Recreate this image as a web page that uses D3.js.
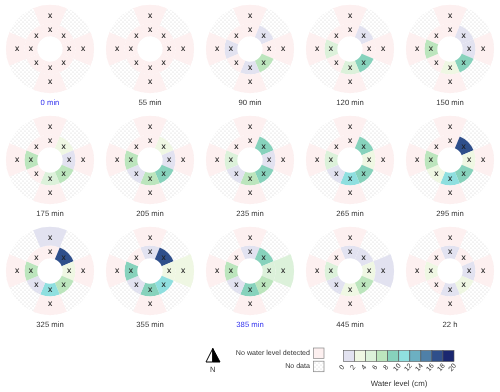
<!DOCTYPE html>
<html>
<head>
<meta charset="utf-8">
<script src="https://cdn.jsdelivr.net/npm/d3@7"></script>
<style>
body { margin: 0; background: #fff; }
svg { will-change: transform; }
text { font-family: "Liberation Sans", Arial, sans-serif; fill: #333; text-rendering: geometricPrecision; }
.mark { fill: #222; stroke: #222; stroke-width: 0.1; }
</style>
</head>
<body>
<svg id="chart" width="500" height="392"></svg>
<script>
var panelLabels = ["0 min", "55 min", "90 min", "120 min", "150 min",
    "175 min", "205 min", "235 min", "265 min", "295 min",
    "325 min", "355 min", "385 min", "445 min", "22 h"];
var blueLabels = ["0 min", "385 min"];

// inner ring, clockwise from north: N NE E SE S SW W NW (null = no water level detected)
var innerLevels = [
    [null, null, null, null, null, null, null, null],
    [null, null, null, null, null, null, null, null],
    [null, 1, null, 7, 1, null, 1, null],
    [null, 1, null, 9, 5, null, 5, null],
    [null, 1, 1, 9, 3, null, 7, null],
    [null, 3, 1, 7, 5, null, 7, null],
    [null, 3, 1, 9, 7, 1, 7, null],
    [null, 9, 1, 9, 7, 1, 5, null],
    [null, 9, 3, 9, 11, 1, 5, null],
    [null, 17, 3, 9, 11, 3, 7, null],
    [null, 17, 3, 7, 11, 1, 7, null],
    [1, 17, 3, 11, 9, 1, 9, null],
    [1, 9, 5, 7, 9, 1, 7, null],
    [1, 1, 3, 7, 3, 1, 5, null],
    [1, null, 1, 3, 1, null, 3, null]
];
// outer ring: N E S W
var outerLevels = [
    [null, null, null, null],
    [null, null, null, null],
    [null, null, null, null],
    [null, null, null, null],
    [null, null, null, null],
    [null, null, null, null],
    [null, null, null, null],
    [null, null, null, null],
    [null, null, null, null],
    [null, null, null, null],
    [1, null, null, null],
    [null, 3, null, null],
    [null, 5, null, null],
    [null, 1, null, null],
    [null, null, null, null]
];
var levelTicks = [0, 2, 4, 6, 8, 10, 12, 14, 16, 18, 20];
var levelColors = ["#e2e2f0", "#eff7e3", "#dcf1da", "#bce5bd", "#87d2bc",
    "#8fdfdf", "#6cb0c2", "#4f80a8", "#2f4f8b", "#1a2770"];
var noWaterColor = "#fdf0f0";

var svg = d3.select("#chart");

var color = d3.scaleThreshold()
    .domain(levelTicks.slice(1, -1))
    .range(levelColors);

var x = d3.scalePoint().domain(d3.range(5)).range([50, 450]);
var y = d3.scalePoint().domain(d3.range(3)).range([49, 271]);

var holeR = 12.7, ringR = 25.5, outerR = 44;
var innerMarkR = 19.2, outerMarkR = 33;
var step = Math.PI / 4;

var defs = svg.append("defs");
var dots = defs.append("pattern")
    .attr("id", "stipple")
    .attr("patternUnits", "userSpaceOnUse")
    .attr("width", 4)
    .attr("height", 4);
dots.selectAll("circle")
    .data([[1, 1], [3, 3]])
    .enter().append("circle")
    .attr("cx", function(d) { return d[0]; })
    .attr("cy", function(d) { return d[1]; })
    .attr("r", 0.5)
    .attr("fill", "#c4c4c4");

var innerArc = d3.arc()
    .innerRadius(holeR)
    .outerRadius(ringR)
    .startAngle(function(d) { return d.i * step - step / 2; })
    .endAngle(function(d) { return d.i * step + step / 2; });

var outerArc = d3.arc()
    .innerRadius(ringR)
    .outerRadius(outerR)
    .startAngle(function(d) { return d.i * 2 * step - step / 2; })
    .endAngle(function(d) { return d.i * 2 * step + step / 2; });

function fillFor(d) {
    return d.v === null ? noWaterColor : color(d.v);
}

function withIndex(v, i) {
    return { v: v, i: i };
}

var panels = svg.selectAll(".panel")
    .data(panelLabels)
    .enter().append("g")
    .attr("class", "panel")
    .attr("transform", function(d, i) {
        return "translate(" + x(i % 5) + "," + y(Math.floor(i / 5)) + ")";
    });

panels.append("path")
    .attr("d", d3.arc().innerRadius(holeR).outerRadius(outerR).startAngle(0).endAngle(2 * Math.PI))
    .attr("fill", "url(#stipple)");

panels.each(function(label, p) {
    var g = d3.select(this);

    g.selectAll(".inner")
        .data(innerLevels[p].map(withIndex))
        .enter().append("path")
        .attr("class", "inner")
        .attr("d", innerArc)
        .attr("fill", fillFor);

    g.selectAll(".outer")
        .data(outerLevels[p].map(withIndex))
        .enter().append("path")
        .attr("class", "outer")
        .attr("d", outerArc)
        .attr("fill", fillFor);

    g.selectAll(".mark-inner")
        .data(innerLevels[p].map(withIndex))
        .enter().append("text")
        .attr("class", "mark mark-inner")
        .attr("x", function(d) { return innerMarkR * Math.sin(d.i * step); })
        .attr("y", function(d) { return -innerMarkR * Math.cos(d.i * step); })
        .attr("dy", "0.25em")
        .attr("text-anchor", "middle")
        .attr("font-size", 8.5)
        .text("x");

    g.selectAll(".mark-outer")
        .data(outerLevels[p].map(withIndex))
        .enter().append("text")
        .attr("class", "mark mark-outer")
        .attr("x", function(d) { return outerMarkR * Math.sin(d.i * 2 * step); })
        .attr("y", function(d) { return -outerMarkR * Math.cos(d.i * 2 * step); })
        .attr("dy", "0.25em")
        .attr("text-anchor", "middle")
        .attr("font-size", 8.5)
        .text("x");

    g.append("text")
        .attr("y", 56)
        .attr("text-anchor", "middle")
        .attr("font-size", 7.7)
        .style("fill", blueLabels.indexOf(label) >= 0 ? "#3333ee" : "#333")
        .text(label);
});

// colour bar
var barY = 350.5, barH = 11;
var barX = d3.scaleLinear().domain([0, 20]).range([343.5, 454]);

var bar = svg.append("g");
bar.selectAll("rect")
    .data(levelColors)
    .enter().append("rect")
    .attr("x", function(d, i) { return barX(levelTicks[i]); })
    .attr("y", barY)
    .attr("width", function(d, i) { return barX(levelTicks[i + 1]) - barX(levelTicks[i]); })
    .attr("height", barH)
    .attr("fill", function(d) { return d; })
    .attr("stroke", "#555")
    .attr("stroke-width", 0.6);

var barAxis = svg.append("g")
    .attr("transform", "translate(0," + (barY + barH) + ")")
    .call(d3.axisBottom(barX).tickValues(levelTicks).tickSize(0));
barAxis.select(".domain").remove();
barAxis.selectAll("text")
    .attr("font-size", 7)
    .attr("text-anchor", "middle")
    .attr("dy", null)
    .attr("y", 0)
    .attr("transform", "translate(-2,6) rotate(-50)")
    .attr("dominant-baseline", "middle");

svg.append("text")
    .attr("x", 399)
    .attr("y", 386)
    .attr("text-anchor", "middle")
    .attr("font-size", 7.8)
    .text("Water level (cm)");

// key boxes
var keyLabels = ["No water level detected", "No data"];
var keyFills = [noWaterColor, "url(#stipple)"];
var keyY = d3.scalePoint().domain([0, 1]).range([348, 361.2]);

var key = svg.selectAll(".key")
    .data(keyLabels)
    .enter().append("g")
    .attr("class", "key");
key.append("rect")
    .attr("x", 313.5)
    .attr("y", function(d, i) { return keyY(i); })
    .attr("width", 10.5)
    .attr("height", 10.5)
    .attr("fill", function(d, i) { return keyFills[i]; })
    .attr("stroke", "#888")
    .attr("stroke-width", 0.7);
key.append("text")
    .attr("x", 310)
    .attr("y", function(d, i) { return keyY(i) + 7.2; })
    .attr("text-anchor", "end")
    .attr("font-size", 7.1)
    .text(function(d) { return d; });

// north arrow
var north = svg.append("g");
north.append("path")
    .attr("d", "M212.8,348.5 L206,362 L212.8,362 Z")
    .attr("fill", "#fff")
    .attr("stroke", "#000")
    .attr("stroke-width", 1);
north.append("path")
    .attr("d", "M212.8,348.5 L220,362 L212.8,362 Z")
    .attr("fill", "#000")
    .attr("stroke", "#000")
    .attr("stroke-width", 1);
north.append("text")
    .attr("x", 212.8)
    .attr("y", 372)
    .attr("text-anchor", "middle")
    .attr("font-size", 7.5)
    .text("N");
</script>
</body>
</html>
